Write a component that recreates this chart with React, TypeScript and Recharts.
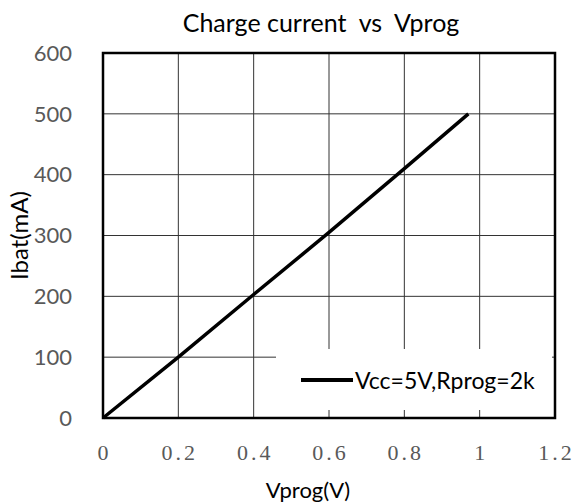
import { CartesianGrid, Label, Legend, Line, LineChart, ReferenceArea, XAxis, YAxis } from 'recharts';

const vprog = [0, 0.2, 0.4, 0.6, 0.8, 0.97];
const ibat = [0, 100, 203, 305, 410, 500];
const xTicks = [0, 0.2, 0.4, 0.6, 0.8, 1, 1.2];
const yTicks = [0, 100, 200, 300, 400, 500, 600];
const seriesName = 'Vcc=5V,Rprog=2k';

const data = vprog.map((v, i) => ({ v, ibat: ibat[i] }));

const sans = 'Lato, "Open Sans", sans-serif';

const LegendBox = () => (
    <div
        style={{
            width: 276,
            height: 61,
            background: '#fff',
            display: 'flex',
            alignItems: 'center',
            fontFamily: sans,
            fontSize: 23,
            color: '#000',
        }}
    >
        <div style={{ width: 52, height: 4, background: '#000', marginLeft: 25, marginRight: 2 }} />
        <span>{seriesName}</span>
    </div>
);

export default function App() {
    return (
        <div style={{ position: 'absolute', left: 0, top: 0, width: 577, height: 504, background: '#fff' }}>
            <div
                style={{
                    position: 'absolute',
                    left: 0,
                    width: 642,
                    top: 7,
                    textAlign: 'center',
                    fontFamily: sans,
                    fontSize: 25,
                    lineHeight: 1.2,
                    whiteSpace: 'pre',
                    color: '#000',
                }}
            >
                {'Charge current  vs  Vprog'}
            </div>
            <LineChart width={577} height={504} data={data} margin={{ top: 53, right: 22, bottom: 0, left: 0 }}>
                <CartesianGrid stroke="#333" strokeWidth={1} />
                <XAxis
                    dataKey="v"
                    type="number"
                    domain={[0, 1.2]}
                    ticks={xTicks}
                    height={86}
                    axisLine={false}
                    tickLine={false}
                    tickMargin={20}
                    tick={{ fill: '#595959', fontFamily: '"Liberation Serif", serif', fontSize: 22, letterSpacing: 3, dx: 1.5 }}
                >
                    <Label value="Vprog(V)" position="insideBottom" offset={6} dx={-21} style={{ fill: '#000', fontFamily: sans, fontSize: 22 }} />
                </XAxis>
                <YAxis
                    type="number"
                    domain={[0, 600]}
                    ticks={yTicks}
                    width={103}
                    axisLine={false}
                    tickLine={false}
                    tickMargin={25}
                    tick={{ fill: '#595959', fontFamily: sans, fontSize: 22 }}
                >
                    <Label value="Ibat(mA)" angle={-90} position="insideLeft" offset={19} style={{ fill: '#000', fontFamily: sans, fontSize: 24, textAnchor: 'middle' }} />
                </YAxis>
                <ReferenceArea x1={0} x2={1.2} y1={0} y2={600} fill="none" stroke="#000" strokeWidth={2.5} ifOverflow="visible" />
                <Legend
                    layout="horizontal"
                    verticalAlign="middle"
                    content={<LegendBox />}
                    wrapperStyle={{ left: 276, top: 349, width: 276, height: 61 }}
                />
                <Line
                    type="linear"
                    dataKey="ibat"
                    name={seriesName}
                    stroke="#000"
                    strokeWidth={3.5}
                    dot={false}
                    isAnimationActive={false}
                />
            </LineChart>
        </div>
    );
}
